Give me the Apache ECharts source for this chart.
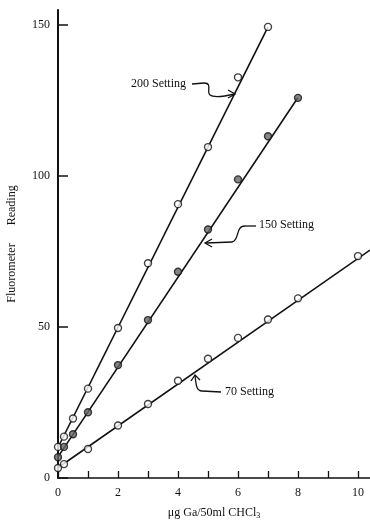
<!DOCTYPE html>
<html>
<head>
<meta charset="utf-8">
<script src="https://cdn.jsdelivr.net/npm/echarts@6/dist/echarts.min.js"></script>
<style>html,body{margin:0;padding:0;background:#fff;}#c{width:370px;height:522px;}</style>
</head>
<body>
<div id="c"></div>
<script>
// Data
const x200 = [0, 0.2, 0.5, 1, 2, 3, 4, 5, 6, 7];
const y200 = [10.3, 13.7, 19.7, 29.6, 49.7, 71.1, 90.7, 109.6, 132.7, 149.4];
const x150 = [0, 0.2, 0.5, 1, 2, 3, 4, 5, 6, 7, 8];
const y150 = [6.9, 10.3, 14.5, 21.8, 37.4, 52.3, 68.3, 82.3, 98.9, 113.2, 125.9];
const x70 = [0, 0.2, 1, 2, 3, 4, 5, 6, 7, 8, 10];
const y70 = [3.3, 4.6, 9.6, 17.4, 24.5, 32.2, 39.5, 46.4, 52.5, 59.5, 73.5];
// fitted straight lines (end points)
const fit200X = [0, 7];
const fit200Y = [10.1, 149.4];
const fit150X = [0, 8];
const fit150Y = [7.0, 126.0];
const fit70X = [0, 10.4];
const fit70Y = [3.4, 75.5];
const seriesNames = ['200 Setting', '150 Setting', '70 Setting'];
const xTitle = 'μg Ga/50ml CHCl';
const yTitle = 'Fluorometer      Reading';

const zip = (a, b) => a.map((v, i) => [v, b[i]]);
const FONT = '"Liberation Serif", "DejaVu Serif", serif';
const INK = '#111';

const chart = echarts.init(document.getElementById('c'), null, {renderer: 'canvas'});

function lineSeries(xs, ys) {
  return {type: 'line', data: zip(xs, ys), symbol: 'none', silent: true, z: 2,
    lineStyle: {color: INK, width: 1.6}};
}
function pointSeries(name, xs, ys, fill) {
  return {name: name, type: 'scatter', data: zip(xs, ys), symbol: 'circle', symbolSize: 7, z: 3,
    itemStyle: {color: fill, borderColor: INK, borderWidth: 1.4}};
}
const stroke = {stroke: INK, lineWidth: 1.3, fill: null};
function seg(x1, y1, x2, y2) {
  return {type: 'line', shape: {x1, y1, x2, y2}, style: stroke};
}
function bez(x1, y1, cpx1, cpy1, cpx2, cpy2, x2, y2) {
  return {type: 'bezierCurve', shape: {x1, y1, cpx1, cpy1, cpx2, cpy2, x2, y2}, style: stroke};
}
function head(pts) {
  return {type: 'polyline', shape: {points: pts}, style: stroke};
}

chart.setOption({
  animation: false,
  backgroundColor: '#fff',
  grid: {left: 58, right: 0, top: 10, bottom: 44, containLabel: false, outerBoundsMode: 'none'},
  xAxis: {
    type: 'value', min: 0, max: 10.4, interval: 1,
    axisLine: {show: true, lineStyle: {color: INK, width: 1.6}},
    axisTick: {show: true, inside: true, length: 7, lineStyle: {color: INK, width: 1.3}},
    axisLabel: {show: true, showMaxLabel: false, margin: 9, fontFamily: FONT, fontSize: 12, color: INK,
      formatter: v => (Math.round(v) % 2 === 0 ? String(Math.round(v)) : '')},
    splitLine: {show: false},
    name: '{t|' + xTitle + '}{s|3}', nameLocation: 'middle', nameGap: 28,
    nameTextStyle: {rich: {
      t: {fontFamily: FONT, fontSize: 12, color: INK},
      s: {fontFamily: FONT, fontSize: 8, color: INK, padding: [6, 0, 0, 0]}
    }}
  },
  yAxis: {
    type: 'value', min: 0, max: 155, interval: 50,
    axisLine: {show: true, lineStyle: {color: INK, width: 2}},
    axisTick: {show: true, inside: true, length: 10, lineStyle: {color: INK, width: 1.5}},
    axisLabel: {show: true, showMaxLabel: false, margin: 8, fontFamily: FONT, fontSize: 12, color: INK},
    splitLine: {show: false},
    name: yTitle, nameLocation: 'middle', nameGap: 40, nameRotate: 90,
    nameTextStyle: {fontFamily: FONT, fontSize: 12, color: INK}
  },
  series: [
    lineSeries(fit200X, fit200Y),
    lineSeries(fit150X, fit150Y),
    lineSeries(fit70X, fit70Y),
    pointSeries(seriesNames[0], x200, y200, '#fff'),
    pointSeries(seriesNames[1], x150, y150, '#666'),
    pointSeries(seriesNames[2], x70, y70, '#fff')
  ],
  graphic: [
    {type: 'text', left: 131, top: 78, style: {text: seriesNames[0], font: '12px ' + FONT, fill: INK}},
    seg(192, 84, 204, 83),
    bez(204, 83, 213, 83, 206, 92, 210, 95),
    bez(210, 95, 214, 98, 226, 96, 235, 94),
    head([[228, 90], [235, 94], [228, 98]]),

    {type: 'text', left: 259, top: 219, style: {text: seriesNames[1], font: '12px ' + FONT, fill: INK}},
    seg(256, 226, 245, 226),
    bez(245, 226, 235, 226, 240, 240, 232, 242),
    seg(232, 242, 206, 243),
    head([[212, 239], [205, 243], [212, 247]]),

    {type: 'text', left: 225, top: 386, style: {text: seriesNames[2], font: '12px ' + FONT, fill: INK}},
    seg(221, 392, 202, 391),
    bez(202, 391, 196, 391, 196, 384, 195, 375),
    head([[191, 381], [195, 375], [200, 380]])
  ]
});
</script>
</body>
</html>
